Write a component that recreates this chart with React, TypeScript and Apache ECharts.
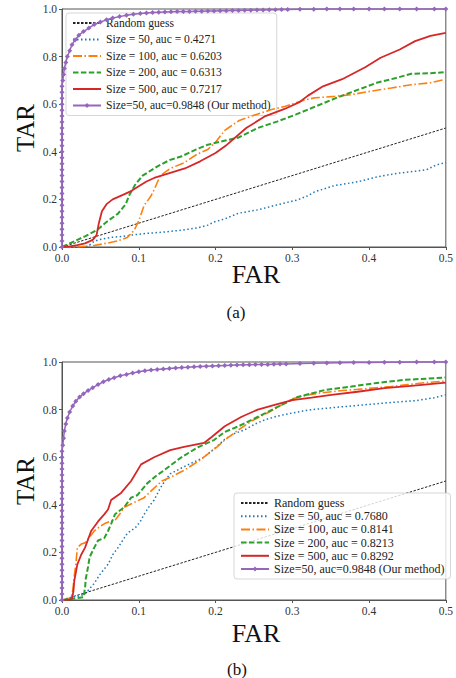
import React, { useEffect, useRef } from "react";
import * as echarts from "echarts";

const FONT = "'Liberation Serif', 'Times New Roman', serif";

const xTicks = [0, 0.1, 0.2, 0.3, 0.4, 0.5];
const yTicks = [0, 0.2, 0.4, 0.6, 0.8, 1.0];

const namesA = [
  "Random guess",
  "Size = 50, auc = 0.4271",
  "Size = 100, auc = 0.6203",
  "Size = 200, auc = 0.6313",
  "Size = 500, auc = 0.7217",
  "Size=50, auc=0.9848 (Our method)",
];
const namesB = [
  "Random guess",
  "Size = 50, auc = 0.7680",
  "Size = 100, auc = 0.8141",
  "Size = 200, auc = 0.8213",
  "Size = 500, auc = 0.8292",
  "Size=50, auc=0.9848 (Our method)",
];

const randomGuess = [[0, 0], [0.5, 0.5]];

// ---------- chart (a) ----------
const blueA = [[0,0],[0.02,0],[0.034,0.003],[0.04,0.02],[0.047,0.03],[0.063,0.04],[0.08,0.045],[0.09,0.05],[0.11,0.057],[0.13,0.062],[0.154,0.07],[0.176,0.08],[0.19,0.092],[0.198,0.105],[0.212,0.118],[0.23,0.142],[0.255,0.156],[0.28,0.177],[0.307,0.198],[0.32,0.215],[0.329,0.232],[0.355,0.258],[0.385,0.274],[0.41,0.294],[0.437,0.31],[0.46,0.318],[0.475,0.325],[0.488,0.345],[0.5,0.355]];
const orangeA = [[0,0],[0.02,0],[0.04,0.005],[0.06,0.017],[0.075,0.028],[0.085,0.04],[0.094,0.07],[0.1,0.11],[0.107,0.175],[0.115,0.21],[0.12,0.24],[0.128,0.3],[0.141,0.33],[0.159,0.354],[0.176,0.39],[0.19,0.41],[0.2,0.44],[0.212,0.49],[0.23,0.53],[0.247,0.55],[0.273,0.578],[0.29,0.59],[0.316,0.618],[0.33,0.627],[0.355,0.633],[0.377,0.64],[0.403,0.655],[0.429,0.668],[0.455,0.682],[0.48,0.69],[0.5,0.705]];
const greenA = [[0,0],[0.01,0.015],[0.02,0.03],[0.03,0.045],[0.045,0.07],[0.06,0.11],[0.073,0.14],[0.083,0.18],[0.088,0.22],[0.095,0.26],[0.105,0.3],[0.115,0.32],[0.125,0.34],[0.14,0.365],[0.155,0.38],[0.175,0.41],[0.19,0.43],[0.21,0.445],[0.23,0.46],[0.255,0.5],[0.28,0.527],[0.305,0.557],[0.33,0.59],[0.36,0.63],[0.385,0.66],[0.41,0.69],[0.435,0.71],[0.455,0.728],[0.48,0.73],[0.5,0.735]];
const redA = [[0,0],[0.01,0.003],[0.02,0.008],[0.03,0.015],[0.04,0.03],[0.045,0.05],[0.048,0.1],[0.052,0.15],[0.058,0.18],[0.066,0.2],[0.08,0.22],[0.09,0.235],[0.1,0.255],[0.11,0.275],[0.12,0.29],[0.14,0.31],[0.16,0.33],[0.18,0.36],[0.2,0.395],[0.215,0.43],[0.24,0.5],[0.265,0.55],[0.29,0.58],[0.31,0.61],[0.32,0.635],[0.34,0.675],[0.365,0.705],[0.38,0.73],[0.395,0.755],[0.415,0.795],[0.44,0.83],[0.46,0.865],[0.48,0.887],[0.5,0.9]];
const purpleA = [[0,0],[0,0.025],[0,0.05],[0,0.075],[0,0.1],[0,0.125],[0,0.15],[0,0.175],[0,0.2],[0,0.225],[0,0.25],[0,0.275],[0,0.3],[0,0.325],[0,0.35],[0,0.375],[0,0.4],[0,0.425],[0,0.45],[0,0.475],[0,0.5],[0,0.525],[0,0.55],[0,0.575],[0,0.6],[0,0.625],[0,0.65],[0,0.675],[0.001,0.7],[0.002,0.725],[0.003,0.75],[0.005,0.775],[0.007,0.8],[0.01,0.825],[0.013,0.85],[0.017,0.87],[0.022,0.89],[0.028,0.905],[0.035,0.92],[0.042,0.935],[0.05,0.945],[0.058,0.955],[0.066,0.962],[0.075,0.968],[0.084,0.974],[0.093,0.978],[0.102,0.981],[0.11,0.983],[0.118,0.985],[0.126,0.986],[0.134,0.987],[0.142,0.988],[0.15,0.989],[0.158,0.99],[0.166,0.99],[0.174,0.991],[0.182,0.991],[0.19,0.992],[0.198,0.992],[0.206,0.993],[0.214,0.993],[0.222,0.994],[0.23,0.994],[0.238,0.995],[0.246,0.995],[0.254,0.996],[0.262,0.996],[0.27,0.997],[0.278,0.997],[0.286,0.998],[0.294,0.998],[0.31,0.999],[0.328,0.999],[0.345,1],[0.362,1],[0.38,1],[0.4,1],[0.42,1],[0.44,1],[0.462,1],[0.485,1],[0.5,1]];

// ---------- chart (b) ----------
const blueB = [[0,0],[0.01,0.01],[0.02,0.015],[0.03,0.025],[0.034,0.04],[0.042,0.07],[0.05,0.11],[0.06,0.15],[0.066,0.19],[0.073,0.22],[0.08,0.255],[0.085,0.28],[0.096,0.305],[0.102,0.33],[0.107,0.36],[0.115,0.4],[0.12,0.42],[0.128,0.47],[0.134,0.5],[0.141,0.53],[0.159,0.56],[0.172,0.58],[0.185,0.6],[0.2,0.64],[0.212,0.675],[0.225,0.7],[0.238,0.715],[0.252,0.74],[0.264,0.757],[0.28,0.772],[0.3,0.786],[0.325,0.8],[0.359,0.81],[0.394,0.82],[0.429,0.83],[0.462,0.838],[0.485,0.85],[0.5,0.862]];
const orangeB = [[0,0],[0.01,0.005],[0.012,0.01],[0.014,0.04],[0.016,0.1],[0.018,0.15],[0.02,0.22],[0.025,0.235],[0.03,0.24],[0.036,0.265],[0.042,0.29],[0.05,0.31],[0.055,0.32],[0.062,0.33],[0.069,0.334],[0.075,0.36],[0.081,0.39],[0.094,0.41],[0.107,0.43],[0.12,0.47],[0.13,0.5],[0.141,0.515],[0.159,0.545],[0.18,0.588],[0.202,0.643],[0.212,0.672],[0.23,0.715],[0.247,0.752],[0.27,0.79],[0.3,0.845],[0.32,0.862],[0.342,0.872],[0.365,0.88],[0.385,0.885],[0.41,0.892],[0.429,0.897],[0.45,0.905],[0.472,0.913],[0.5,0.92]];
const greenB = [[0,0],[0.01,0.003],[0.02,0.008],[0.028,0.012],[0.03,0.05],[0.031,0.09],[0.034,0.14],[0.036,0.18],[0.042,0.22],[0.047,0.25],[0.055,0.26],[0.06,0.29],[0.064,0.32],[0.069,0.36],[0.081,0.39],[0.09,0.43],[0.098,0.44],[0.111,0.49],[0.122,0.52],[0.133,0.545],[0.154,0.596],[0.176,0.64],[0.198,0.672],[0.212,0.706],[0.23,0.73],[0.247,0.757],[0.265,0.785],[0.28,0.81],[0.307,0.853],[0.342,0.882],[0.377,0.897],[0.41,0.912],[0.446,0.925],[0.475,0.93],[0.5,0.935]];
const redB = [[0,0],[0.008,0.002],[0.013,0.004],[0.015,0.04],[0.016,0.08],[0.02,0.15],[0.025,0.19],[0.03,0.22],[0.038,0.29],[0.047,0.33],[0.055,0.36],[0.06,0.38],[0.064,0.42],[0.077,0.45],[0.09,0.5],[0.103,0.57],[0.12,0.6],[0.141,0.63],[0.159,0.643],[0.185,0.66],[0.195,0.685],[0.212,0.73],[0.234,0.77],[0.255,0.8],[0.277,0.82],[0.3,0.84],[0.325,0.85],[0.351,0.862],[0.385,0.875],[0.42,0.89],[0.455,0.9],[0.5,0.913]];
const purpleB = [[0,0],[0,0.025],[0,0.05],[0,0.075],[0,0.1],[0,0.125],[0,0.15],[0,0.175],[0,0.2],[0,0.225],[0,0.25],[0,0.275],[0,0.3],[0,0.325],[0,0.35],[0,0.375],[0,0.4],[0,0.425],[0,0.45],[0,0.475],[0,0.5],[0,0.525],[0,0.55],[0,0.575],[0,0.6],[0,0.625],[0.001,0.65],[0.002,0.68],[0.003,0.71],[0.005,0.74],[0.007,0.765],[0.01,0.79],[0.014,0.815],[0.018,0.835],[0.023,0.853],[0.028,0.867],[0.034,0.88],[0.04,0.892],[0.047,0.905],[0.054,0.917],[0.061,0.926],[0.068,0.934],[0.076,0.942],[0.084,0.948],[0.092,0.954],[0.1,0.959],[0.108,0.963],[0.116,0.966],[0.124,0.969],[0.132,0.971],[0.14,0.973],[0.148,0.975],[0.156,0.977],[0.164,0.978],[0.172,0.98],[0.18,0.981],[0.188,0.982],[0.196,0.983],[0.204,0.984],[0.212,0.985],[0.22,0.986],[0.228,0.987],[0.236,0.988],[0.244,0.988],[0.252,0.989],[0.26,0.99],[0.268,0.99],[0.276,0.991],[0.284,0.992],[0.292,0.992],[0.31,0.994],[0.328,0.995],[0.345,0.996],[0.362,0.997],[0.38,0.998],[0.4,0.998],[0.42,0.999],[0.44,0.999],[0.462,1],[0.485,1],[0.5,1]];

const COLORS = ["#222222", "#1f77b4", "#ff7f0e", "#2ca02c", "#d62728", "#9467bd"];
const DASHES: any[] = [[2.5, 1.5], [1.5, 2.5], [9, 2.5, 1.5, 2.5], [5.5, 2.4], "solid", "solid"];
const WIDTHS = [1, 1.5, 1.6, 2, 1.8, 1.5];

function buildSeries(names: string[], datas: number[][][], gi: number) {
  return datas.map((d, i) => {
    const isOurs = i === 5;
    return {
      type: "line",
      name: names[i],
      xAxisIndex: gi,
      yAxisIndex: gi,
      data: d,
      symbol: isOurs ? "diamond" : "none",
      symbolSize: isOurs ? 5 : 0,
      showSymbol: isOurs,
      clip: !isOurs,
      z: 2 + i,
      itemStyle: { color: COLORS[i] },
      lineStyle: { color: COLORS[i], width: WIDTHS[i], type: DASHES[i] },
      emphasis: { disabled: true },
    };
  });
}

function legendData(names: string[]) {
  return names.map((n, i) => (i < 5 ? { name: n, itemStyle: { opacity: 0, borderWidth: 0 } } : { name: n }));
}

function axisPair(gi: number) {
  const common = {
    gridIndex: gi,
    type: "value",
    axisLine: { show: true, lineStyle: { color: "#555", width: 1 } },
    axisTick: { show: true, inside: false, length: 3, lineStyle: { color: "#555" } },
    splitLine: { show: false },
    axisLabel: {
      fontFamily: FONT,
      fontSize: 11.5,
      color: "#333",
      formatter: (v: number) => v.toFixed(1),
    },
  };
  return {
    x: { ...common, min: xTicks[0], max: xTicks[xTicks.length - 1], interval: 0.1, axisLabel: { ...common.axisLabel, margin: 5 } },
    y: { ...common, min: yTicks[0], max: yTicks[yTicks.length - 1], interval: 0.2, axisLabel: { ...common.axisLabel, margin: 5 } },
  };
}

function txt(text: string, x: number, y: number, size: number, rot = 0) {
  return {
    type: "text",
    x,
    y,
    rotation: rot,
    silent: true,
    style: {
      text,
      fontFamily: FONT,
      fontSize: size,
      fill: "#111",
      align: "center",
      verticalAlign: "middle",
      textAlign: "center",
      textVerticalAlign: "middle",
    },
  };
}

export default function App() {
  const ref = useRef<HTMLDivElement>(null);
  useEffect(() => {
    document.body.style.margin = "0";
    if (!ref.current) return;
    const chart = echarts.init(ref.current, undefined, { renderer: "svg" });
    const a = axisPair(0);
    const b = axisPair(1);
    const legendBase = {
      orient: "vertical",
      selectedMode: false,
      itemWidth: 28,
      itemHeight: 6,
      borderColor: "rgba(204,204,204,0.8)",
      borderWidth: 1,
      borderRadius: 3,
      backgroundColor: "rgba(255,255,255,0.8)",
    };
    chart.setOption({
      animation: false,
      backgroundColor: "#fff",
      grid: [
        { left: 62, right: 5, top: 9, height: 238, show: true, borderColor: "#555", borderWidth: 1, backgroundColor: "transparent" },
        { left: 62, right: 5, top: 362, height: 238, show: true, borderColor: "#555", borderWidth: 1, backgroundColor: "transparent" },
      ],
      xAxis: [a.x, b.x],
      yAxis: [a.y, b.y],
      legend: [
        {
          ...legendBase,
          data: legendData(namesA),
          left: 66,
          top: 13,
          itemGap: 4.5,
          padding: [4, 6, 4, 6],
          textStyle: { fontFamily: FONT, fontSize: 11.6, color: "#222", lineHeight: 12 },
        },
        {
          ...legendBase,
          data: legendData(namesB),
          left: 234,
          top: 493,
          itemGap: 1.2,
          padding: [4, 6, 4, 6],
          textStyle: { fontFamily: FONT, fontSize: 12, color: "#222", lineHeight: 12 },
        },
      ],
      series: [
        ...buildSeries(namesA, [randomGuess, blueA, orangeA, greenA, redA, purpleA], 0),
        ...buildSeries(namesB, [randomGuess, blueB, orangeB, greenB, redB, purpleB], 1),
      ],
      graphic: [
        txt("TAR", 25, 128, 25, Math.PI / 2),
        txt("FAR", 256, 274, 26),
        txt("(a)", 236, 312, 17),
        txt("TAR", 25, 481, 25, Math.PI / 2),
        txt("FAR", 256, 633, 26),
        txt("(b)", 237, 669, 17),
      ],
    });
    return () => chart.dispose();
  }, []);
  return <div ref={ref} style={{ position: "absolute", left: 0, top: 0, width: 456, height: 678 }} />;
}
